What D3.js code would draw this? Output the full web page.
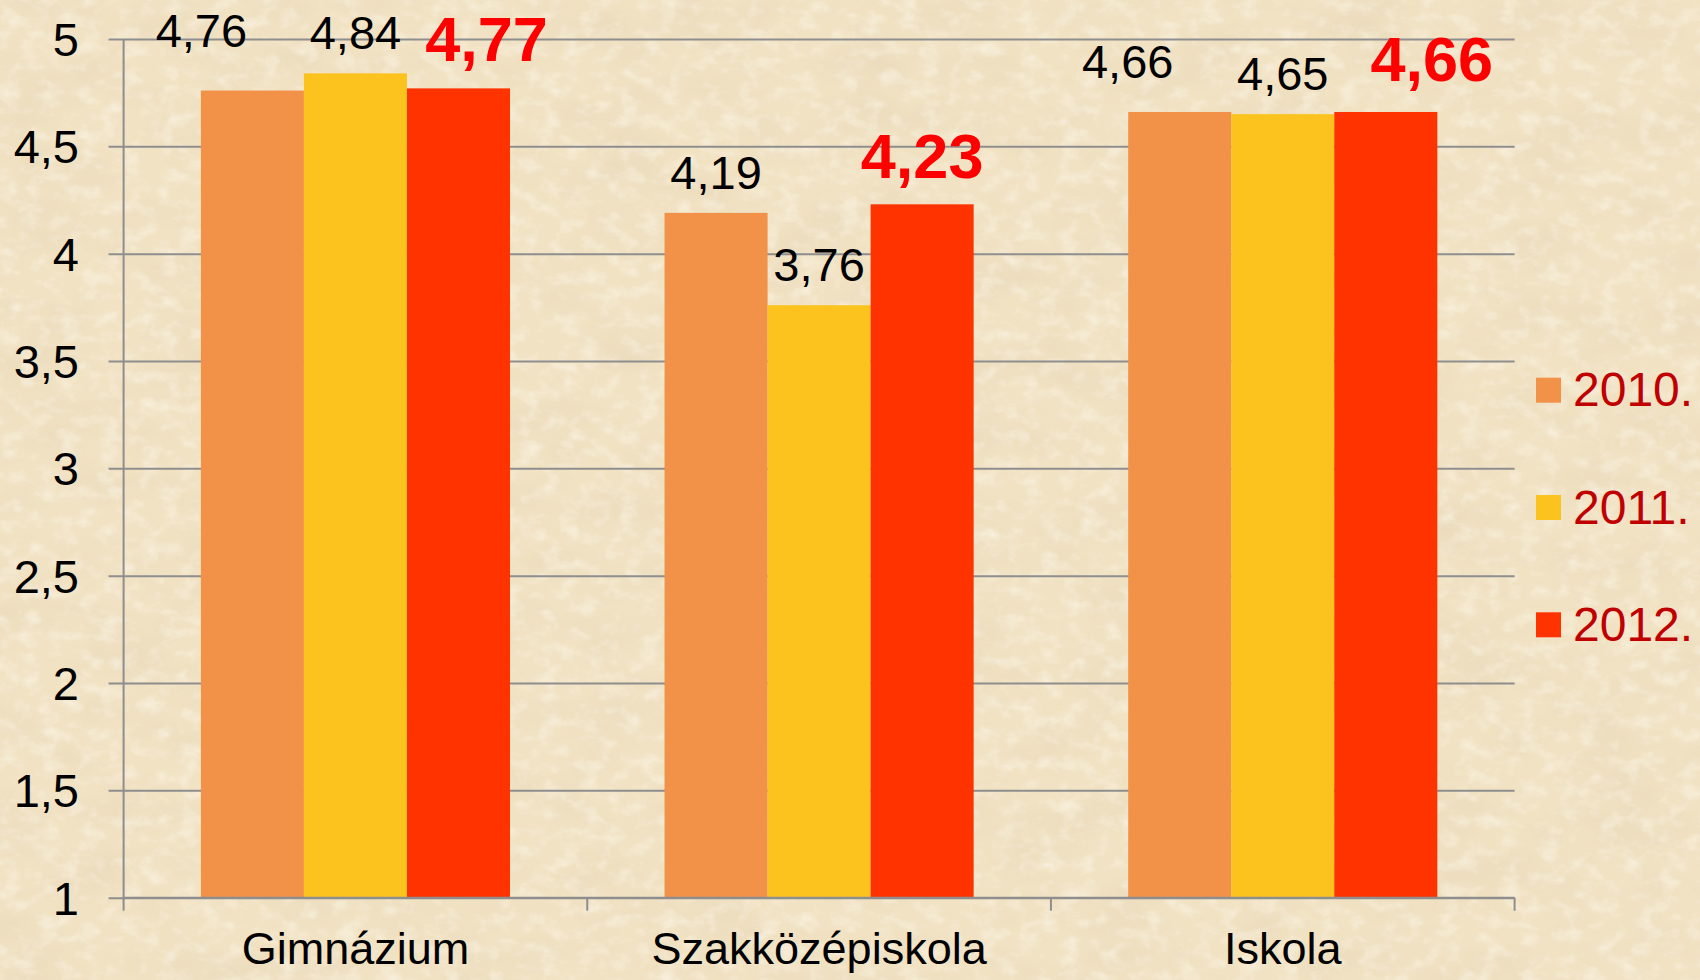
<!DOCTYPE html>
<html>
<head>
<meta charset="utf-8">
<script src="https://cdn.jsdelivr.net/npm/d3@7/dist/d3.min.js"></script>
<style>
  html, body { margin: 0; padding: 0; background: #F1E3C6; }
  svg { display: block; }
</style>
</head>
<body>
<svg id="chart" width="1700" height="980"></svg>
<script>
// ---- data ----
const categories = ["Gimnázium", "Szakközépiskola", "Iskola"];
const seriesNames = ["2010.", "2011.", "2012."];
const values2010 = [4.76, 4.19, 4.66];
const values2011 = [4.84, 3.76, 4.65];
const values2012 = [4.77, 4.23, 4.66];
const valueLabels2010 = ["4,76", "4,19", "4,66"];
const valueLabels2011 = ["4,84", "3,76", "4,65"];
const valueLabels2012 = ["4,77", "4,23", "4,66"];
const yTicks = [1, 1.5, 2, 2.5, 3, 3.5, 4, 4.5, 5];
const yTickLabels = ["1", "1,5", "2", "2,5", "3", "3,5", "4", "4,5", "5"];

// ---- layout / style ----
const W = 1700, H = 980;
const plot = { left: 123.6, right: 1514.6, top: 39, bottom: 897.7 };
const colors = ["#F29148", "#FCC31E", "#FF3300"];
const FONT = "'Liberation Sans', Arial, Helvetica, sans-serif";
const gridColor = "#8E8E8E";
// manual label adjustments of the original slide (dx, dy in px)
const labelNudge = { "0|0": [-51, -20], "0|2": [28, -1], "2|0": [-52, -10], "2|2": [46, -5] };

const seriesValues = [values2010, values2011, values2012];
const seriesLabels = [valueLabels2010, valueLabels2011, valueLabels2012];

const svg = d3.select("#chart");

// background parchment texture
const defs = svg.append("defs");
const f = defs.append("filter").attr("id", "paper").attr("x", 0).attr("y", 0).attr("width", 1).attr("height", 1);
f.append("feTurbulence").attr("type", "fractalNoise").attr("baseFrequency", "0.012 0.02").attr("numOctaves", 5).attr("seed", 7).attr("result", "n");
f.append("feColorMatrix").attr("in", "n").attr("type", "matrix")
  .attr("values", "0 0 0 0 0.74  0 0 0 0 0.62  0 0 0 0 0.44  1.5 0 0 0 -0.62");
const f2 = defs.append("filter").attr("id", "paper2").attr("x", 0).attr("y", 0).attr("width", 1).attr("height", 1);
f2.append("feTurbulence").attr("type", "fractalNoise").attr("baseFrequency", "0.05 0.07").attr("numOctaves", 3).attr("seed", 3).attr("result", "n");
f2.append("feColorMatrix").attr("in", "n").attr("type", "matrix")
  .attr("values", "0 0 0 0 1  0 0 0 0 0.98  0 0 0 0 0.92  1.8 0 0 0 -0.85");

svg.append("rect").attr("width", W).attr("height", H).attr("fill", "#F1E2C3");
svg.append("rect").attr("width", W).attr("height", H).attr("filter", "url(#paper)").attr("opacity", 0.4);
svg.append("rect").attr("width", W).attr("height", H).attr("filter", "url(#paper2)").attr("opacity", 0.6);

// scales
const x = d3.scaleBand().domain(categories).range([plot.left, plot.right]).paddingInner(0).paddingOuter(0);
const x1 = d3.scaleBand().domain(seriesNames).range([0, x.bandwidth()]).paddingInner(0).paddingOuter(0.75);
const y = d3.scaleLinear().domain([1, 5]).range([plot.bottom, plot.top]);

// y axis with gridlines
const yAxis = svg.append("g").attr("transform", `translate(${plot.left},0)`)
  .call(d3.axisLeft(y).tickValues(yTicks).tickFormat((d, i) => yTickLabels[i])
    .tickSize(-(plot.right - plot.left)).tickSizeOuter(0));
yAxis.select(".domain").remove();
yAxis.selectAll(".tick line").attr("x1", -15).attr("stroke", gridColor).attr("stroke-width", 2);
yAxis.selectAll(".tick text")
  .attr("x", -(plot.left - 79)).attr("dy", "0.35em")
  .attr("font-family", FONT).attr("font-size", 47).attr("fill", "#000");

// y axis line
svg.append("line").attr("x1", plot.left).attr("x2", plot.left).attr("y1", plot.top).attr("y2", plot.bottom)
  .attr("stroke", gridColor).attr("stroke-width", 2);

// bars
const groups = svg.append("g").selectAll("g").data(categories).join("g")
  .attr("transform", d => `translate(${x(d)},0)`);
groups.selectAll("rect")
  .data((c, ci) => seriesNames.map((s, si) => ({ s, si, ci, v: seriesValues[si][ci] })))
  .join("rect")
  .attr("x", d => x1(d.s))
  .attr("width", x1.bandwidth())
  .attr("y", d => y(d.v))
  .attr("height", d => y(1) - y(d.v))
  .attr("fill", d => colors[d.si]);

// x axis
const xAxis = svg.append("g").attr("transform", `translate(0,${plot.bottom})`)
  .call(d3.axisBottom(x).tickSize(0).tickPadding(0));
xAxis.select(".domain").remove();
xAxis.selectAll(".tick text")
  .attr("y", 964 - plot.bottom).attr("dy", 0)
  .attr("font-family", FONT).attr("font-size", 45).attr("fill", "#000");
svg.append("line").attr("x1", plot.left).attr("x2", plot.right).attr("y1", plot.bottom).attr("y2", plot.bottom)
  .attr("stroke", gridColor).attr("stroke-width", 2);
const bounds = categories.map(c => x(c)).concat([plot.right]);
svg.append("g").selectAll("line").data(bounds).join("line")
  .attr("x1", d => d).attr("x2", d => d).attr("y1", plot.bottom).attr("y2", plot.bottom + 13)
  .attr("stroke", gridColor).attr("stroke-width", 2);

// value labels
groups.selectAll("text.val")
  .data((c, ci) => seriesNames.map((s, si) => ({ s, si, ci, v: seriesValues[si][ci], t: seriesLabels[si][ci] })))
  .join("text").attr("class", "val")
  .attr("x", d => x1(d.s) + x1.bandwidth() / 2 + (labelNudge[d.ci + "|" + d.si] || [0, 0])[0])
  .attr("y", d => y(d.v) - (d.si === 2 ? 26 : 24) + (labelNudge[d.ci + "|" + d.si] || [0, 0])[1])
  .attr("text-anchor", "middle")
  .attr("font-family", FONT)
  .attr("font-size", d => d.si === 2 ? 63 : 47)
  .attr("font-weight", d => d.si === 2 ? "bold" : "normal")
  .attr("fill", d => d.si === 2 ? "#FF0000" : "#000")
  .text(d => d.t);

// legend
const legend = svg.append("g").selectAll("g").data(seriesNames).join("g")
  .attr("transform", (d, i) => `translate(1536,${377.7 + i * 117.3})`);
legend.append("rect").attr("width", 25).attr("height", 25).attr("fill", (d, i) => colors[i]);
legend.append("text").attr("x", 37).attr("y", 28.5)
  .attr("font-family", FONT).attr("font-size", 48).attr("fill", "#C00000")
  .text(d => d);
</script>
</body>
</html>
